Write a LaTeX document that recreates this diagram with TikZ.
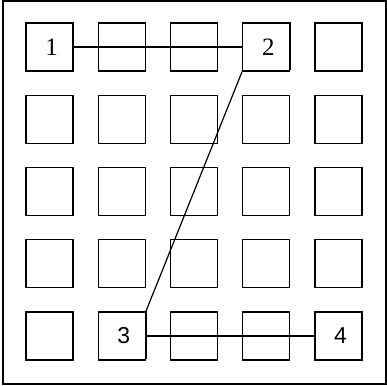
\documentclass[tikz,border=0pt]{standalone}
\usepackage{fontspec}
\setmainfont{Liberation Serif}
\newfontfamily\labsans{Liberation Sans}
\begin{document}
\begin{tikzpicture}[x=1pt,y=-1pt,
  cell/.style={draw,line width=1.4pt,minimum width=47pt,minimum height=48pt,inner sep=0pt,fill=white},
  mark cell/.style={cell,font=\fontsize{25}{25}\selectfont},
  link/.style={line width=1.2pt}]
\useasboundingbox (0,0) rectangle (387,385);
\node[draw,line width=1.4pt,minimum width=383pt,minimum height=383pt,inner sep=0pt] (frame) at (194.5,192.5) {};
\foreach \i in {0,...,4}{
  \foreach \j in {0,...,4}{
    \node[cell] (c\i\j) at ({49.5+72.25*\i},{47+72.25*\j}) {};
  }
}
\draw[link] (c00.east) -- (c30.west);
\draw[link] (c30.south west) -- (c14.north east);
\draw[link] (c14.east) -- (c44.west);
\foreach \n/\c in {1/c00,2/c30,3/c14,4/c44}{
  \node[fill=black,minimum width=47pt,minimum height=48pt,inner sep=0pt] (s\n) at ([xshift=1.3pt,yshift=1.3pt]\c) {};
  \node[mark cell] (n\n) at (\c) {};
}
\node[font=\fontsize{25}{25}\selectfont,xshift=2pt] (t1) at (n1) {1};
\node[font=\fontsize{25}{25}\selectfont,xshift=2pt] (t2) at (n2) {2};
\node[font=\labsans\fontsize{23}{23}\selectfont,xshift=2pt] (t3) at (n3) {3};
\node[font=\labsans\fontsize{23}{23}\selectfont,xshift=2pt] (t4) at (n4) {4};
\end{tikzpicture}
\end{document}
